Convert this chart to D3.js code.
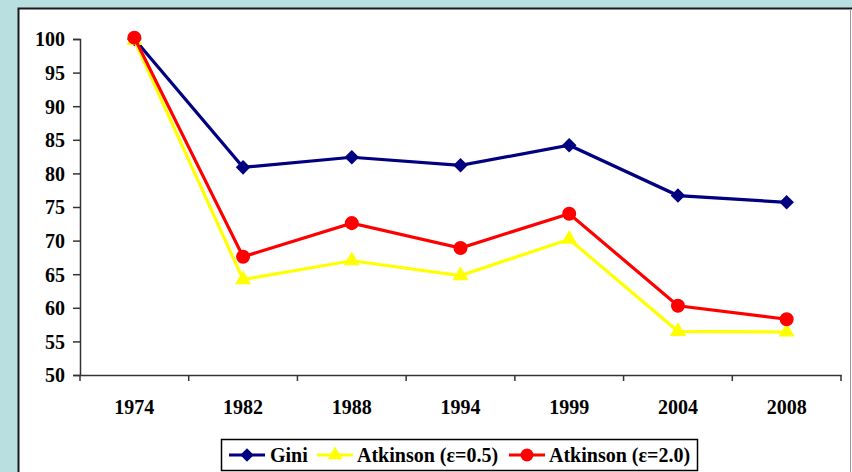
<!DOCTYPE html>
<html>
<head>
<meta charset="utf-8">
<script src="https://cdn.jsdelivr.net/npm/d3@7"></script>
<style>
  body { margin: 0; background: #b9dfe1; }
  svg { display: block; }
</style>
</head>
<body>
<div id="chart"></div>
<script>
const years = ["1974", "1982", "1988", "1994", "1999", "2004", "2008"];
const gini = [100, 80.9, 82.4, 81.2, 84.2, 76.7, 75.7];
const atk05 = [99.8, 64.2, 67.0, 64.8, 70.2, 56.5, 56.4];
const atk20 = [100.2, 67.6, 72.6, 68.9, 74.0, 60.3, 58.3];
const yTicks = [50, 55, 60, 65, 70, 75, 80, 85, 90, 95, 100];

const W = 852, H = 472;
const margin = { top: 39, right: 11, bottom: 97, left: 80 };
const width = W - margin.left - margin.right,
  height = H - margin.top - margin.bottom;

const root = d3.select("#chart").append("svg")
  .attr("width", W)
  .attr("height", H);

// white panel with dark top/left edge
root.append("rect")
  .attr("x", 18).attr("y", 8)
  .attr("width", W - 18).attr("height", H - 8)
  .attr("fill", "white");
root.append("path")
  .attr("d", `M18.5,${H} V8.5 H${W}`)
  .attr("fill", "none").attr("stroke", "#1a1a1a").attr("stroke-width", 2);
root.append("line")
  .attr("x1", W - 1.5).attr("x2", W - 1.5).attr("y1", 9).attr("y2", H)
  .attr("stroke", "#999").attr("stroke-width", 1);

const svg = root.append("g")
  .attr("transform", `translate(${margin.left},${margin.top})`);

const x = d3.scaleBand().domain(years).range([0, width]);
const y = d3.scaleLinear().domain([50, 100]).range([height, 0]);

const fontFam = "'Liberation Serif', 'Times New Roman', serif";
const fontSize = "20px";

// axes
const yAxis = svg.append("g")
  .call(d3.axisLeft(y).tickValues(yTicks).tickSize(7).tickPadding(8));
const xAxis = svg.append("g")
  .attr("transform", `translate(0,${height})`)
  .call(d3.axisBottom(x).tickSize(0).tickPadding(25));

// x ticks at band boundaries
const bounds = years.map(d => x(d)).concat([width]);
xAxis.selectAll(".bound")
  .data(bounds)
  .enter().append("line")
  .attr("x1", d => d).attr("x2", d => d)
  .attr("y1", 0).attr("y2", 6)
  .attr("stroke", "#333").attr("stroke-width", 1.5);

[yAxis, xAxis].forEach(a => {
  a.select(".domain").attr("stroke", "#333").attr("stroke-width", 1.5);
  a.selectAll(".tick line").attr("stroke", "#333").attr("stroke-width", 1.5);
  a.selectAll("text")
    .style("font-family", fontFam)
    .style("font-size", fontSize)
    .style("font-weight", "bold")
    .attr("fill", "#000");
});
yAxis.selectAll("text").attr("dy", "0.34em");

const series = [
  { name: "Gini", values: gini, color: "#000080", symbol: d3.symbolSquare, size: 106, rotate: 45 },
  { name: "Atkinson (ε=0.5)", values: atk05, color: "#ffff00", symbol: d3.symbolTriangle, size: 110, rotate: 0 },
  { name: "Atkinson (ε=2.0)", values: atk20, color: "#ff0000", symbol: d3.symbolCircle, size: 154, rotate: 0 }
];

const line = d3.line()
  .x((d, i) => x(years[i]) + x.bandwidth() / 2)
  .y(d => y(d));

series.forEach(s => {
  const g = svg.append("g");
  g.append("path")
    .datum(s.values)
    .attr("fill", "none")
    .attr("stroke", s.color)
    .attr("stroke-width", 3.2)
    .attr("d", line);
  g.selectAll("path.marker")
    .data(s.values)
    .enter().append("path")
    .attr("class", "marker")
    .attr("transform", (d, i) => `translate(${x(years[i]) + x.bandwidth() / 2},${y(d)}) rotate(${s.rotate})`)
    .attr("d", d3.symbol().type(s.symbol).size(s.size))
    .attr("fill", s.color);
});

// legend
const legend = root.append("g").attr("transform", "translate(221,439)");
legend.append("rect")
  .attr("x", 0.5).attr("y", 0.5)
  .attr("width", 476).attr("height", 31)
  .attr("fill", "white").attr("stroke", "#000").attr("stroke-width", 1.5);

const itemX = [8, 96, 288];
const textX = [49, 136, 328];
series.forEach((s, i) => {
  const item = legend.append("g").attr("transform", `translate(${itemX[i]},16)`);
  item.append("line")
    .attr("x1", 0).attr("x2", 36)
    .attr("stroke", s.color).attr("stroke-width", 3.2);
  item.append("path")
    .attr("transform", `translate(18,0) rotate(${s.rotate})`)
    .attr("d", d3.symbol().type(s.symbol).size(s.size * 0.85))
    .attr("fill", s.color);
  item.append("text")
    .attr("x", textX[i] - itemX[i]).attr("y", 0).attr("dy", "0.33em")
    .style("font-family", fontFam)
    .style("font-size", fontSize)
    .style("font-weight", "bold")
    .text(s.name);
});
</script>
</body>
</html>
